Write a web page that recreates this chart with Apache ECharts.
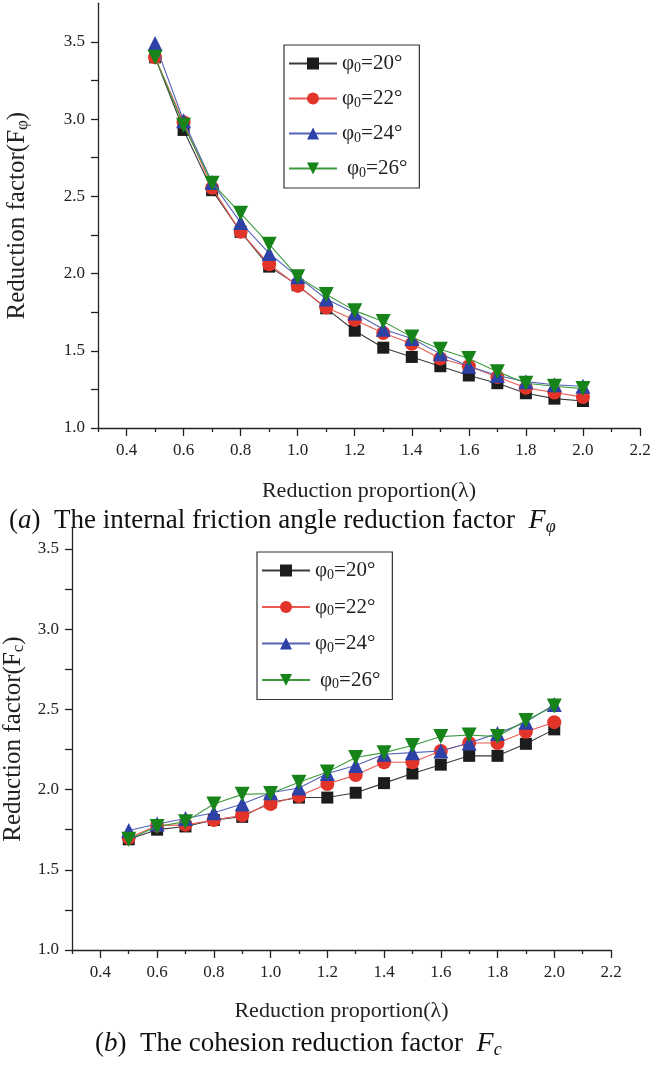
<!DOCTYPE html>
<html><head><meta charset="utf-8">
<script src="https://cdn.jsdelivr.net/npm/echarts@6/dist/echarts.min.js"></script>
<style>html,body{margin:0;padding:0;background:#fff}#c{width:653px;height:1066px}</style>
</head><body><div id="c"></div>
<script>
// ---------- data ----------
const lambda = [0.5,0.6,0.7,0.8,0.9,1.0,1.1,1.2,1.3,1.4,1.5,1.6,1.7,1.8,1.9,2.0];
const phi0Labels = ['20°','22°','24°','26°'];
// (a) internal friction angle reduction factor F_phi
const fPhi20 = [3.40,2.93,2.54,2.27,2.045,1.925,1.775,1.63,1.52,1.46,1.40,1.34,1.29,1.225,1.19,1.175];
const fPhi22 = [3.40,2.98,2.555,2.27,2.06,1.92,1.78,1.70,1.615,1.545,1.45,1.40,1.33,1.26,1.23,1.20];
const fPhi24 = [3.49,2.99,2.59,2.33,2.13,1.98,1.835,1.745,1.64,1.58,1.48,1.40,1.34,1.30,1.28,1.27];
const fPhi26 = [3.40,2.96,2.585,2.39,2.19,1.98,1.865,1.76,1.69,1.59,1.51,1.45,1.365,1.29,1.27,1.255];
// (b) cohesion reduction factor F_c
const fC20 = [1.69,1.75,1.77,1.81,1.83,1.92,1.95,1.95,1.98,2.04,2.10,2.155,2.21,2.21,2.285,2.375];
const fC22 = [1.70,1.775,1.78,1.81,1.84,1.91,1.96,2.035,2.09,2.17,2.17,2.24,2.29,2.29,2.36,2.42];
const fC24 = [1.745,1.785,1.82,1.855,1.91,1.98,2.01,2.10,2.15,2.22,2.23,2.24,2.29,2.35,2.42,2.53];
const fC26 = [1.69,1.77,1.80,1.91,1.97,1.975,2.045,2.11,2.20,2.23,2.275,2.33,2.34,2.33,2.43,2.52];
// ticks
const xTickLabels = [0.4,0.6,0.8,1.0,1.2,1.4,1.6,1.8,2.0,2.2];
const xMinorTicks = [0.3,0.5,0.7,0.9,1.1,1.3,1.5,1.7,1.9,2.1];
const yTickLabels = [1.0,1.5,2.0,2.5,3.0,3.5];
const yMinorTicks = [1.25,1.75,2.25,2.75,3.25];

// ---------- styles ----------
const FONT = 'Liberation Serif';
const colors = ['#1c1c1c','#e3342a','#2e41a6','#17841a'];
const lineColors = ['#3a3a3a','#ea5a52','#5262b8','#3d9a3d'];
const symbols = ['rect','circle','triangle','path://M0,0 L10,0 L5,8.7 Z'];
const symSizes = [12,14,15,15];
const names = phi0Labels.map(l => 'φ0=' + l);

function seriesFor(arrs, xi, yi) {
  return arrs.map((arr, k) => ({
    type: 'line', name: names[k], xAxisIndex: xi, yAxisIndex: yi,
    data: lambda.map((x, i) => [x, arr[i]]),
    symbol: symbols[k], symbolSize: symSizes[k], showSymbol: true,
    itemStyle: {color: colors[k]},
    lineStyle: {color: lineColors[k], width: 1.1},
    animation: false, z: 2 + k
  }));
}

function xAxes(gi) {
  const base = {type:'value', gridIndex: gi, min: 0.3, max: 2.2, position:'bottom', offset: 0, splitLine:{show:false}};
  return [
    Object.assign({}, base, {
      axisLine:{show:true, lineStyle:{color:'#222', width:1.3}},
      axisTick:{show:true, inside:false, length:8, customValues: xTickLabels, lineStyle:{color:'#222', width:1.3}},
      axisLabel:{show:true, customValues: xTickLabels, fontFamily: FONT, fontSize: 17, color:'#222', margin: 14,
        formatter: v => Number(v).toFixed(1)},
      name: 'Reduction proportion(λ)', nameLocation:'middle', nameGap: gi === 0 ? 52 : 50,
      nameTextStyle:{fontFamily: FONT, fontSize: 22, color:'#222'}
    }),
    Object.assign({}, base, {
      axisLine:{show:false},
      axisTick:{show:true, length:4, customValues: xMinorTicks, lineStyle:{color:'#222', width:1.3}},
      axisLabel:{show:false}
    })
  ];
}
function yAxes(gi, max, title, gap) {
  const base = {type:'value', gridIndex: gi, min: 1.0, max: max, position:'left', offset: 0, splitLine:{show:false}};
  return [
    Object.assign({}, base, {
      axisLine:{show:true, lineStyle:{color:'#222', width:1.3}},
      axisTick:{show:true, length:7, customValues: yTickLabels, lineStyle:{color:'#222', width:1.3}},
      axisLabel:{show:true, customValues: yTickLabels, fontFamily: FONT, fontSize: 17, color:'#222', margin: 13,
        formatter: v => Number(v).toFixed(1)},
      name: title, nameLocation:'middle', nameRotate: 90, nameGap: gap,
      nameTextStyle:{fontFamily: FONT, fontSize: 25, color:'#222',
        rich:{s:{fontFamily: FONT, fontSize: 17, color:'#222', padding:[10,0,0,0]}}}
    }),
    Object.assign({}, base, {
      axisLine:{show:false},
      axisTick:{show:true, length:7, customValues: yMinorTicks, lineStyle:{color:'#222', width:1.3}},
      axisLabel:{show:false}
    })
  ];
}

function legendFor(left, top, gap) {
  return {
    orient:'vertical', left: left, top: top,
    data: names,
    itemWidth: 48, itemHeight: 15, itemGap: gap,
    borderColor:'#333', borderWidth: 1.2, padding:[8, 12, 8, 4],
    formatter: n => {
      const idx = names.indexOf(n);
      return (idx === 3 ? ' ' : '') + '{p|φ}{s|0}{p|=' + phi0Labels[idx] + '}';
    },
    textStyle:{fontFamily: FONT, fontSize: 20, color:'#222',
      rich:{p:{fontFamily: FONT, fontSize: 21, color:'#222'},
            s:{fontFamily: FONT, fontSize: 14, color:'#222', padding:[9,0,0,0]}}},
    selectedMode: false
  };
}

const capRich = {
  t:{fontFamily: FONT, fontSize: 27, fontWeight:'normal', color:'#111'},
  i:{fontFamily: FONT, fontSize: 27, fontWeight:'normal', fontStyle:'italic', color:'#111'},
  F:{fontFamily: FONT, fontSize: 28, fontWeight:'normal', fontStyle:'italic', color:'#111'},
  s:{fontFamily: FONT, fontSize: 18, fontWeight:'normal', fontStyle:'italic', color:'#111', padding:[13,0,0,0]}
};

const chart = echarts.init(document.getElementById('c'), null, {renderer:'canvas'});
chart.setOption({
  backgroundColor:'#fff',
  animation:false,
  textStyle:{fontFamily: FONT},
  title:[
    {left: 4, top: 500, text: '{t|(}{i|a}{t|)  The internal friction angle reduction factor  }{F|F}{s|φ}',
     textStyle:{fontWeight:'normal', rich: capRich}},
    {left: 90, top: 1023, text: '{t|(}{i|b}{t|)  The cohesion reduction factor  }{F|F}{s|c}',
     textStyle:{fontWeight:'normal', rich: capRich}}
  ],
  grid:[
    {left: 98, top: 3.3, width: 542, height: 424.7, containLabel:false, outerBoundsMode:'none'},
    {left: 72, top: 528, width: 539, height: 422, containLabel:false, outerBoundsMode:'none'}
  ],
  xAxis: [...xAxes(0), ...xAxes(1)],
  yAxis: [...yAxes(0, 3.75, 'Reduction factor(F{s|φ})', 67), ...yAxes(1, 3.63, 'Reduction factor(F{s|c})', 41)],
  legend:[legendFor(284, 45, 13), legendFor(257, 552, 14.5)],
  series: [
    ...seriesFor([fPhi20, fPhi22, fPhi24, fPhi26], 0, 0),
    ...seriesFor([fC20, fC22, fC24, fC26], 2, 2)
  ]
});
</script>
</body></html>
